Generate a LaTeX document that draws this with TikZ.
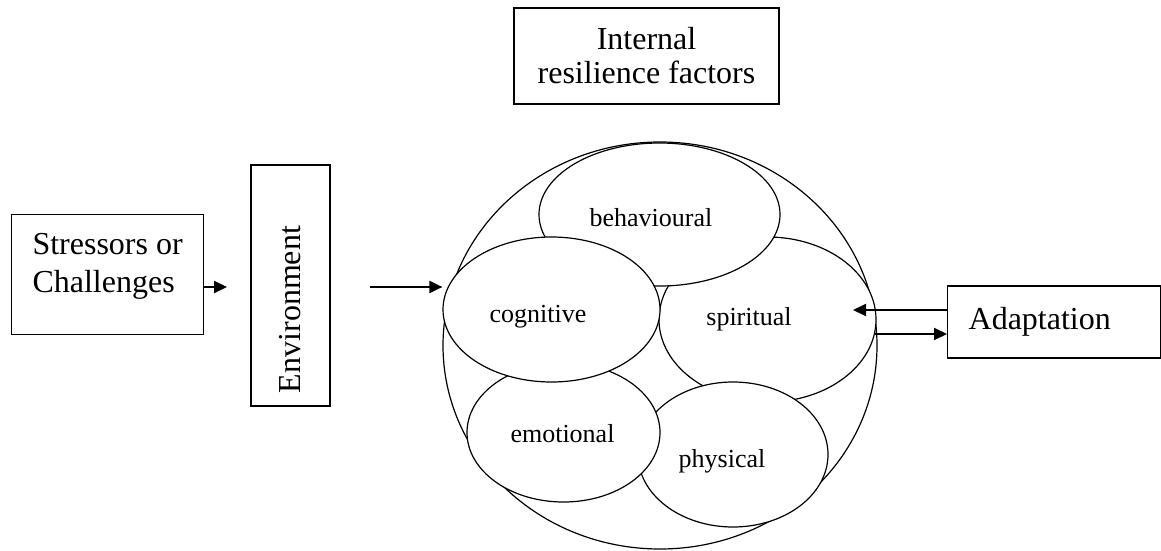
\documentclass[tikz,border=0pt]{standalone}
\usepackage{fontspec}
\setmainfont{Liberation Serif}
\usetikzlibrary{arrows.meta,positioning,shapes.geometric}
\tikzset{
  box/.style={draw,line width=0.65pt,inner sep=0pt,font=\fontsize{16}{19}\selectfont},
  blob/.style={ellipse,draw,line width=0.6pt,fill=white,inner sep=0pt},
  word/.style={font=\fontsize{13}{15}\selectfont,anchor=base},
  arr/.style={-{Triangle[length=6.5pt,width=6pt]},line width=1pt},
}
\begin{document}
\begin{tikzpicture}[x=0.5pt,y=-0.5pt]
  \useasboundingbox (0,0) rectangle (1161,551);
  \node[box,align=left,anchor=north west,minimum width=96pt,minimum height=60pt] (stress) at (11,214) {Stressors or\\Challenges\\[-7pt]\mbox{}};
  \node[box,rotate=90,align=left,text width=107.5pt,inner xsep=6.5pt,minimum width=120.5pt,minimum height=39.5pt] (env) at (290.5,285.5) {Environment};
  \node[box,align=center,minimum width=132.5pt,minimum height=48pt] (inner) at (646.5,56) {Internal\\[-2pt]resilience factors};
  \node[box,align=left,anchor=west,text width=85.5pt,inner xsep=10.5pt,minimum height=36pt] (adapt) at (947,322) {Adaptation};
  \node[blob,minimum width=217pt,minimum height=203.5pt] (ring) at (660,345.5) {};
  \foreach \n/\x/\y/\w/\h in {spir/767.5/319.5/108.5/82.5, behav/659.5/214.5/120.5/71.5, phys/733/454.5/95/72.5,
                              emot/563.5/432.5/96.5/69.5, cogn/551.5/309.5/108.5/72.5}
    \node[blob,minimum width={\w pt},minimum height={\h pt}] (\n) at (\x,\y) {};
  \foreach \n/\x/\y/\t in {behav/651/226/behavioural, cogn/538/322/cognitive, spir/749/325/spiritual,
                           emot/562.5/442/emotional, phys/722/467/physical}
    \node[word] (\n-t) at (\x,\y) {\t};
  \coordinate (stressout) at (227,287);
  \draw[arr] (stressout -| stress.east) -- (stressout);
  \coordinate (ringin) at (370,287);
  \draw[arr] (ringin) -- (ringin -| cogn.west);
  \coordinate (adaptin) at (853,310);
  \draw[arr] (adaptin -| adapt.west) -- (adaptin);
  \coordinate (adaptout) at (875,334);
  \draw[arr] (adaptout) -- (adaptout -| adapt.west);
\end{tikzpicture}
\end{document}
